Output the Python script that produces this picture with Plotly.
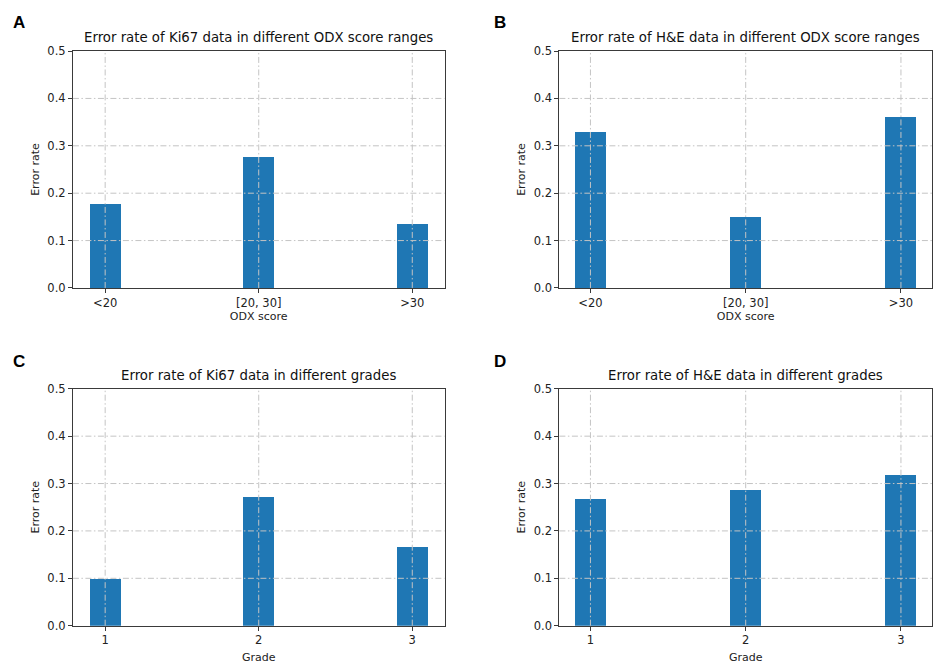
import plotly.graph_objects as go

# ---- data ----
odx_categories = ["<20", "[20, 30]", ">30"]
grade_categories = ["1", "2", "3"]
ki67_odx_error = [0.177, 0.277, 0.134]
he_odx_error = [0.330, 0.150, 0.360]
ki67_grade_error = [0.100, 0.272, 0.167]
he_grade_error = [0.267, 0.286, 0.318]
y_ticks = [0.0, 0.1, 0.2, 0.3, 0.4, 0.5]

panels = [
    dict(letter="A", title="Error rate of Ki67 data in different ODX score ranges",
         cats=odx_categories, vals=ki67_odx_error, xlabel="ODX score"),
    dict(letter="B", title="Error rate of H&E data in different ODX score ranges",
         cats=odx_categories, vals=he_odx_error, xlabel="ODX score"),
    dict(letter="C", title="Error rate of Ki67 data in different grades",
         cats=grade_categories, vals=ki67_grade_error, xlabel="Grade"),
    dict(letter="D", title="Error rate of H&E data in different grades",
         cats=grade_categories, vals=he_grade_error, xlabel="Grade"),
]

W, H = 933, 664
# plot-area pixel boxes (left, right, top, bottom)
boxes = [
    (73, 445, 45, 287),
    (560, 933, 45, 287),
    (73, 445, 390, 632),
    (560, 933, 390, 632),
]
xranges = [(-0.21, 2.21), (-0.2, 2.2), (-0.21, 2.21), (-0.2, 2.2)]
x_standoffs = [0, 0, 7, 7]

FONT = "DejaVu Sans"
BAR = "#1f77b4"
SPINE = "#3a3a3a"
GRID = "#c4c4c4"
DASH = "6px,2.5px,1.5px,2.5px"

fig = go.Figure()
annotations = []
shapes = []

for i, (p, box, xr) in enumerate(zip(panels, boxes, xranges)):
    n = i + 1
    xa = "x" if n == 1 else f"x{n}"
    ya = "y" if n == 1 else f"y{n}"
    l, r, t, b = box
    xidx = list(range(len(p["cats"])))
    fig.add_trace(go.Bar(x=xidx, y=p["vals"], width=0.2, marker=dict(color=BAR, line=dict(width=0)),
                         xaxis=xa, yaxis=ya, showlegend=False))
    axkey = "" if n == 1 else str(n)
    fig.layout["xaxis" + axkey] = dict(
        domain=[l / W, min(r / W, 1.0)], anchor=ya, range=list(xr),
        tickmode="array", tickvals=xidx, ticktext=p["cats"],
        ticks="outside", ticklen=4, tickcolor=SPINE, tickwidth=1,
        showline=True, linecolor=SPINE, linewidth=1, mirror=True,
        showgrid=False, zeroline=False,
        tickfont=dict(family=FONT, size=11.5, color="#222"),
        title=dict(text=p["xlabel"], font=dict(family=FONT, size=11, color="#222"),
                   standoff=x_standoffs[i]),
        fixedrange=True,
    )
    fig.layout["yaxis" + axkey] = dict(
        domain=[1 - b / H, 1 - t / H], anchor=xa, range=[0, 0.5],
        tickmode="array", tickvals=y_ticks, ticktext=[f"{v:.1f}" for v in y_ticks],
        ticks="outside", ticklen=4, tickcolor=SPINE, tickwidth=1,
        showline=True, linecolor=SPINE, linewidth=1, mirror=True,
        showgrid=False, zeroline=False,
        tickfont=dict(family=FONT, size=11.5, color="#222"),
        title=dict(text="Error rate", font=dict(family=FONT, size=11, color="#222"), standoff=5),
        fixedrange=True,
    )
    # grid lines drawn above the bars (as in the reference)
    for v in y_ticks[1:-1]:
        shapes.append(dict(type="line", layer="above", xref=f"{xa} domain", yref=ya,
                           x0=0, x1=1, y0=v, y1=v,
                           line=dict(color=GRID, width=1, dash=DASH)))
    for c in xidx:
        shapes.append(dict(type="line", layer="above", xref=xa, yref=f"{ya} domain",
                           x0=c, x1=c, y0=0, y1=1,
                           line=dict(color=GRID, width=1, dash=DASH)))
    # title
    annotations.append(dict(text=p["title"], xref="paper", yref="paper",
                            x=((l + min(r, W)) / 2) / W, y=1 - (t - 4) / H,
                            xanchor="center", yanchor="bottom", showarrow=False,
                            font=dict(family=FONT, size=13.3, color="#111")))
    # panel letter
    lx = 19 if i % 2 == 0 else 501
    ly = 16 if i < 2 else 362
    annotations.append(dict(text=f"<b>{p['letter']}</b>", xref="paper", yref="paper",
                            x=lx / W, y=1 - ly / H, xanchor="center", yanchor="middle",
                            showarrow=False,
                            font=dict(family="Liberation Sans", size=17, color="#000")))

fig.update_layout(
    width=W, height=H, margin=dict(l=0, r=0, t=0, b=0),
    paper_bgcolor="white", plot_bgcolor="white",
    annotations=annotations, shapes=shapes, bargap=0,
)

fig.write_html("out.html")
